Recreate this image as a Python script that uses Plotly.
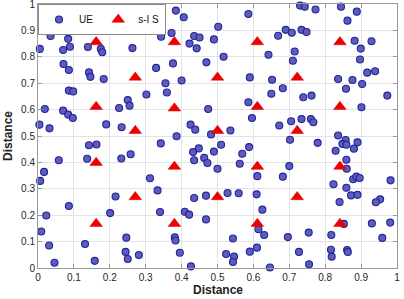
import plotly.graph_objects as go

# UE positions
ue_x = [0.384, 0.406, 0.586, 0.730, 0.743, 0.773, 0.844, 0.888, 0.862, 0.502,
        0.012, 0.142, 0.235, 0.302, 0.035, 0.084, 0.089, 0.070, 0.005, 0.139,
        0.175, 0.179, 0.263, 0.343, 0.372, 0.422, 0.435, 0.450, 0.442, 0.490,
        0.669, 0.690, 0.707, 0.734, 0.748, 0.715, 0.882, 0.929, 0.899,
        0.517, 0.642, 0.897, 0.071, 0.086, 0.142, 0.146, 0.183, 0.329, 0.376,
        0.469, 0.710, 0.590, 0.652, 0.836, 0.876, 0.917, 0.939, 0.355, 0.400,
        0.903, 0.086, 0.098, 0.858, 0.682, 0.650, 0.359, 0.302, 0.250, 0.255,
        0.739, 0.762, 0.586, 0.973, 0.901,
        0.019, 0.070, 0.084, 0.097, 0.226, 0.474, 0.004, 0.032, 0.190, 0.233,
        0.425, 0.438, 0.482, 0.536, 0.386, 0.596, 0.672, 0.705, 0.734, 0.760,
        0.767, 0.702, 0.779, 0.836, 0.857, 0.890, 0.848, 0.859, 0.880, 0.829,
        0.342, 0.142, 0.163, 0.258, 0.232, 0.137, 0.058, 0.448, 0.432, 0.490,
        0.510, 0.588, 0.569, 0.463, 0.435, 0.859,
        0.472, 0.500, 0.562, 0.700, 0.860, 0.017, 0.006, 0.312, 0.333, 0.611,
        0.682, 0.823, 0.859, 0.878, 0.887, 0.896, 0.982, 0.216, 0.435, 0.468,
        0.528, 0.559, 0.609, 0.872, 0.890, 0.953, 0.941, 0.840, 0.086, 0.625,
        0.201, 0.340, 0.409, 0.421, 0.023,
        0.468, 0.009, 0.031, 0.046, 0.131, 0.158, 0.246, 0.244, 0.250, 0.281,
        0.381, 0.383, 0.395, 0.426, 0.543, 0.524, 0.546, 0.543, 0.590, 0.610,
        0.614, 0.630, 0.646, 0.696, 0.727, 0.754, 0.755, 0.817, 0.816, 0.818,
        0.861, 0.863, 0.852, 0.930, 0.981, 0.959]
ue_y = [0.975, 0.950, 0.962, 0.994, 0.990, 0.979, 0.990, 0.971, 0.937, 0.914,
        0.899, 0.899, 0.899, 0.899, 0.879, 0.868, 0.838, 0.826, 0.830, 0.837,
        0.830, 0.817, 0.833, 0.876, 0.890, 0.850, 0.879, 0.873, 0.832, 0.866,
        0.880, 0.902, 0.891, 0.902, 0.894, 0.820, 0.861, 0.859, 0.831,
        0.800, 0.808, 0.790, 0.773, 0.750, 0.741, 0.724, 0.716, 0.758, 0.775,
        0.779, 0.785, 0.722, 0.713, 0.716, 0.712, 0.740, 0.745, 0.700, 0.710,
        0.697, 0.672, 0.669, 0.679, 0.681, 0.660, 0.665, 0.657, 0.636, 0.615,
        0.647, 0.653, 0.628, 0.653, 0.609,
        0.602, 0.596, 0.581, 0.568, 0.606, 0.602, 0.543, 0.529, 0.544, 0.533,
        0.543, 0.524, 0.506, 0.521, 0.499, 0.568, 0.540, 0.556, 0.564, 0.564,
        0.552, 0.486, 0.474, 0.502, 0.485, 0.476, 0.470, 0.467, 0.452, 0.444,
        0.472, 0.465, 0.468, 0.431, 0.415, 0.414, 0.408, 0.453, 0.439, 0.441,
        0.467, 0.458, 0.433, 0.417, 0.408, 0.410,
        0.398, 0.376, 0.395, 0.386, 0.376, 0.364, 0.330, 0.340, 0.294, 0.348,
        0.346, 0.317, 0.304, 0.336, 0.346, 0.341, 0.332, 0.271, 0.265, 0.274,
        0.284, 0.283, 0.279, 0.275, 0.277, 0.260, 0.249, 0.250, 0.235, 0.221,
        0.208, 0.212, 0.213, 0.202, 0.199,
        0.184, 0.138, 0.085, 0.020, 0.091, 0.027, 0.115, 0.061, 0.034, 0.049,
        0.116, 0.104, 0.058, 0.006, 0.112, 0.053, 0.043, 0.023, 0.062, 0.077,
        0.147, 0.125, 0.002, 0.117, 0.061, 0.134, 0.014, 0.125, 0.069, 0.043,
        0.068, 0.061, 0.167, 0.169, 0.172, 0.114]

# s-IS positions
sis_x = [0.162, 0.162, 0.162, 0.162,
         0.271, 0.271, 0.271,
         0.380, 0.380, 0.380, 0.380,
         0.500, 0.500, 0.500,
         0.611, 0.611, 0.611, 0.611,
         0.722, 0.722, 0.722,
         0.841, 0.841, 0.841, 0.841]
sis_y = [0.856, 0.611, 0.399, 0.168,
         0.722, 0.520, 0.269,
         0.856, 0.605, 0.384, 0.168,
         0.722, 0.520, 0.269,
         0.856, 0.611, 0.384, 0.168,
         0.722, 0.520, 0.269,
         0.856, 0.611, 0.384, 0.168]

tick_vals = [0, 0.1, 0.2, 0.3, 0.4, 0.5, 0.6, 0.7, 0.8, 0.9, 1]
tick_text = ["0", "0.1", "0.2", "0.3", "0.4", "0.5", "0.6", "0.7", "0.8", "0.9", "1"]
x_title = "Distance"
y_title = "Distance"

fig = go.Figure()
fig.add_trace(go.Scatter(
    x=ue_x, y=ue_y, mode="markers", name="UE",
    marker=dict(symbol="circle", size=7, color="#5c5cbc",
                line=dict(color="#23239a", width=1.1)),
    cliponaxis=False))
fig.add_trace(go.Scatter(
    x=sis_x, y=sis_y, mode="markers", name="s-I S",
    marker=dict(symbol="triangle-up", size=11, color="#ee0000",
                line=dict(color="#dd0000", width=0.5)),
    cliponaxis=False))

axis_common = dict(
    range=[0, 1], tickvals=tick_vals, ticktext=tick_text,
    showgrid=True, gridcolor="#e3e3e3", gridwidth=1,
    zeroline=False, showline=True, linecolor="#9a9a9a", linewidth=1,
    mirror="ticks", ticks="inside", ticklen=4, tickcolor="#9a9a9a",
    tickfont=dict(family="Arial", size=10, color="#262626"),
    automargin=False, ticklabeloverflow="allow",
)

fig.update_layout(
    width=404, height=299,
    margin=dict(l=38, r=7, t=4, b=31),
    paper_bgcolor="white", plot_bgcolor="white",
    showlegend=True,
    legend=dict(orientation="h", x=0, y=1, xanchor="left", yanchor="top",
                bgcolor="white", bordercolor="#8a8a8a", borderwidth=1,
                font=dict(family="Arial", size=10, color="#111111"),
                itemwidth=30, tracegroupgap=0),
    xaxis=dict(**axis_common),
    yaxis=dict(**axis_common),
    annotations=[
        dict(text="<b>" + x_title + "</b>", xref="paper", yref="paper",
             x=0.5, y=0, yshift=-22, xanchor="center", yanchor="middle",
             showarrow=False,
             font=dict(family="Arial", size=12, color="#222222")),
        dict(text="<b>" + y_title + "</b>", xref="paper", yref="paper",
             x=0, y=0.5, xshift=-30, xanchor="center", yanchor="middle",
             textangle=-90, showarrow=False,
             font=dict(family="Arial", size=12, color="#222222")),
    ],
)

fig.write_html(
    "out.html",
    config={"displayModeBar": False},
    post_script="document.body.style.margin='0';document.body.style.overflow='hidden';",
)
